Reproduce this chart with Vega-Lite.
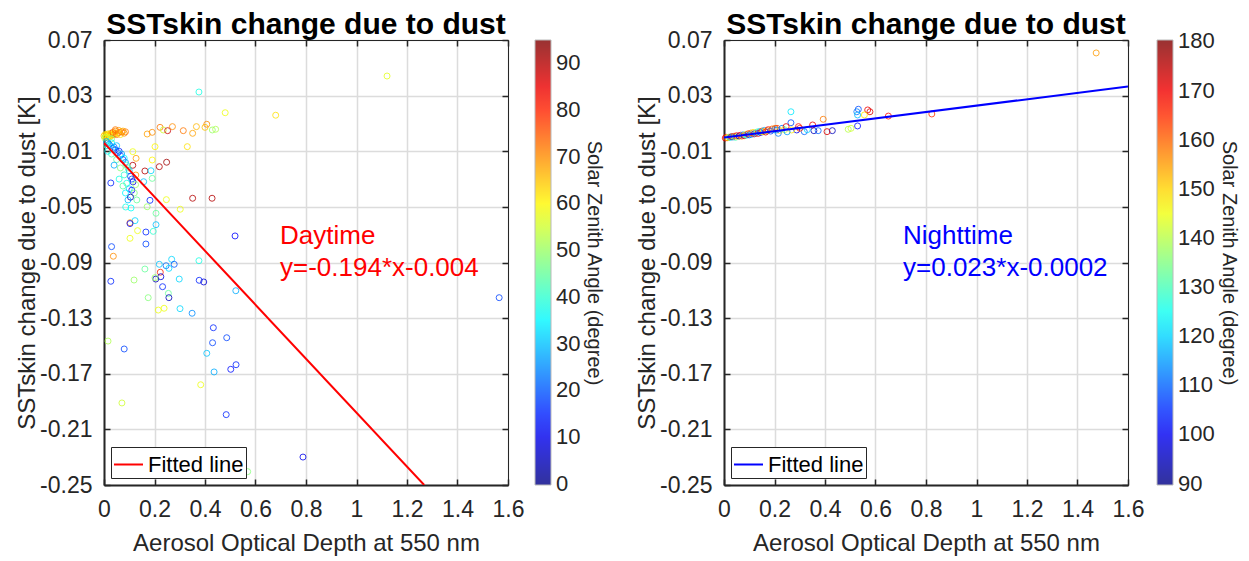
{
  "$schema": "https://vega.github.io/schema/vega-lite/v6.json",
  "padding": {"left": 15, "top": 10, "right": 4, "bottom": 4},
  "spacing": 31,
  "datasets": {
    "day": [
      {"aod":0.376,"dsst":0.0326,"sza":38},{"aod":0.48,"dsst":0.0177,"sza":58},{"aod":0.68,"dsst":0.0159,"sza":62},{"aod":1.121,"dsst":0.0441,"sza":57},
      {"aod":0.171,"dsst":0.0024,"sza":68},{"aod":0.191,"dsst":0.0036,"sza":70},{"aod":0.222,"dsst":0.0072,"sza":72},{"aod":0.235,"dsst":0.0053,"sza":55},
      {"aod":0.252,"dsst":0.0048,"sza":88},{"aod":0.271,"dsst":0.0077,"sza":70},{"aod":0.314,"dsst":0.0048,"sza":72},{"aod":0.351,"dsst":0.0029,"sza":68},
      {"aod":0.366,"dsst":0.0077,"sza":66},{"aod":0.4,"dsst":0.0072,"sza":65},{"aod":0.407,"dsst":0.0094,"sza":70},{"aod":0.429,"dsst":0.0053,"sza":50},
      {"aod":0.442,"dsst":0.0058,"sza":52},{"aod":0.202,"dsst":-0.0067,"sza":60},{"aod":0.33,"dsst":-0.0067,"sza":62},{"aod":0.127,"dsst":-0.0151,"sza":68},
      {"aod":0.114,"dsst":-0.0103,"sza":58},{"aod":0.191,"dsst":-0.0163,"sza":60},{"aod":0.114,"dsst":-0.0201,"sza":90},{"aod":0.219,"dsst":-0.0211,"sza":90},
      {"aod":0.248,"dsst":-0.0179,"sza":92},{"aod":0.162,"dsst":-0.0242,"sza":90},{"aod":0.186,"dsst":-0.024,"sza":32},{"aod":0.191,"dsst":-0.0295,"sza":45},
      {"aod":0.126,"dsst":-0.0271,"sza":70},{"aod":0.027,"dsst":-0.0328,"sza":15},{"aod":0.157,"dsst":-0.0319,"sza":30},{"aod":0.351,"dsst":-0.0438,"sza":90},
      {"aod":0.428,"dsst":-0.0438,"sza":90},{"aod":0.247,"dsst":-0.0448,"sza":58},{"aod":0.182,"dsst":-0.0453,"sza":15},{"aod":0.302,"dsst":-0.0517,"sza":58},
      {"aod":0.206,"dsst":-0.0546,"sza":45},{"aod":0.171,"dsst":-0.0499,"sza":50},{"aod":0.086,"dsst":-0.0501,"sza":38},{"aod":0.107,"dsst":-0.0508,"sza":36},
      {"aod":0.123,"dsst":-0.0599,"sza":32},{"aod":0.103,"dsst":-0.0614,"sza":70},{"aod":0.103,"dsst":-0.062,"sza":12},{"aod":0.206,"dsst":-0.0628,"sza":30},
      {"aod":0.133,"dsst":-0.0671,"sza":58},{"aod":0.166,"dsst":-0.0681,"sza":15},{"aod":0.195,"dsst":-0.0676,"sza":40},{"aod":0.103,"dsst":-0.0726,"sza":58},
      {"aod":0.166,"dsst":-0.0767,"sza":18},{"aod":0.03,"dsst":-0.0786,"sza":18},{"aod":0.519,"dsst":-0.0709,"sza":12},{"aod":0.037,"dsst":-0.0855,"sza":70},
      {"aod":0.027,"dsst":-0.1035,"sza":15},{"aod":0.119,"dsst":-0.1026,"sza":50},{"aod":0.162,"dsst":-0.0947,"sza":45},{"aod":0.219,"dsst":-0.0913,"sza":30},
      {"aod":0.246,"dsst":-0.0923,"sza":22},{"aod":0.257,"dsst":-0.0942,"sza":32},{"aod":0.268,"dsst":-0.0877,"sza":32},{"aod":0.278,"dsst":-0.0913,"sza":20},
      {"aod":0.223,"dsst":-0.097,"sza":80},{"aod":0.225,"dsst":-0.1002,"sza":8},{"aod":0.205,"dsst":-0.1019,"sza":5},{"aod":0.202,"dsst":-0.1009,"sza":50},
      {"aod":0.232,"dsst":-0.1074,"sza":15},{"aod":0.255,"dsst":-0.1122,"sza":45},{"aod":0.257,"dsst":-0.1153,"sza":5},{"aod":0.175,"dsst":-0.1153,"sza":48},
      {"aod":0.215,"dsst":-0.1242,"sza":58},{"aod":0.238,"dsst":-0.1229,"sza":58},{"aod":0.301,"dsst":-0.1232,"sza":32},{"aod":0.349,"dsst":-0.1265,"sza":25},
      {"aod":0.376,"dsst":-0.0887,"sza":38},{"aod":0.298,"dsst":-0.1019,"sza":32},{"aod":0.377,"dsst":-0.1028,"sza":15},{"aod":0.395,"dsst":-0.104,"sza":8},
      {"aod":0.522,"dsst":-0.1103,"sza":28},{"aod":0.016,"dsst":-0.1465,"sza":52},{"aod":0.08,"dsst":-0.1522,"sza":18},{"aod":0.071,"dsst":-0.191,"sza":55},
      {"aod":0.433,"dsst":-0.1369,"sza":15},{"aod":0.486,"dsst":-0.1441,"sza":18},{"aod":0.43,"dsst":-0.1477,"sza":18},{"aod":0.407,"dsst":-0.1553,"sza":30},
      {"aod":0.523,"dsst":-0.1635,"sza":15},{"aod":0.502,"dsst":-0.1668,"sza":13},{"aod":0.436,"dsst":-0.1687,"sza":28},{"aod":0.383,"dsst":-0.1779,"sza":58},
      {"aod":0.484,"dsst":-0.1994,"sza":15},{"aod":0.788,"dsst":-0.2299,"sza":10},{"aod":0.569,"dsst":-0.2404,"sza":48},{"aod":1.565,"dsst":-0.1153,"sza":18},
      {"aod":0.0,"dsst":0.001,"sza":65},{"aod":0.004,"dsst":0.002,"sza":62},{"aod":0.008,"dsst":0.0015,"sza":68},{"aod":0.012,"dsst":0.002,"sza":60},
      {"aod":0.016,"dsst":0.0025,"sza":64},{"aod":0.02,"dsst":0.001,"sza":70},{"aod":0.024,"dsst":0.002,"sza":58},{"aod":0.028,"dsst":0.003,"sza":66},
      {"aod":0.032,"dsst":0.0015,"sza":62},{"aod":0.036,"dsst":0.002,"sza":72},{"aod":0.04,"dsst":0.003,"sza":60},{"aod":0.044,"dsst":0.0025,"sza":68},
      {"aod":0.05,"dsst":0.002,"sza":74},{"aod":0.055,"dsst":0.003,"sza":64},{"aod":0.06,"dsst":0.0035,"sza":70},{"aod":0.065,"dsst":0.002,"sza":62},
      {"aod":0.07,"dsst":0.004,"sza":72},{"aod":0.075,"dsst":0.0045,"sza":66},{"aod":0.08,"dsst":0.003,"sza":70},{"aod":0.003,"dsst":-0.0005,"sza":55},
      {"aod":0.006,"dsst":0.0,"sza":52},{"aod":0.01,"dsst":0.0005,"sza":60},{"aod":0.018,"dsst":0.0,"sza":58},{"aod":0.025,"dsst":0.0005,"sza":62},
      {"aod":0.035,"dsst":0.0035,"sza":75},{"aod":0.045,"dsst":0.0045,"sza":70},{"aod":0.058,"dsst":0.005,"sza":68},{"aod":0.085,"dsst":0.004,"sza":72},
      {"aod":0.03,"dsst":-0.001,"sza":48},{"aod":0.045,"dsst":0.0055,"sza":72},
      {"aod":0.01,"dsst":-0.003,"sza":28},{"aod":0.015,"dsst":-0.004,"sza":25},{"aod":0.02,"dsst":-0.005,"sza":22},{"aod":0.025,"dsst":-0.006,"sza":30},
      {"aod":0.03,"dsst":-0.004,"sza":35},{"aod":0.035,"dsst":-0.008,"sza":20},{"aod":0.04,"dsst":-0.007,"sza":25},{"aod":0.045,"dsst":-0.009,"sza":18},
      {"aod":0.05,"dsst":-0.006,"sza":30},{"aod":0.055,"dsst":-0.011,"sza":22},{"aod":0.06,"dsst":-0.01,"sza":15},{"aod":0.065,"dsst":-0.013,"sza":20},
      {"aod":0.07,"dsst":-0.012,"sza":28},{"aod":0.075,"dsst":-0.016,"sza":18},{"aod":0.08,"dsst":-0.015,"sza":35},{"aod":0.085,"dsst":-0.018,"sza":25},
      {"aod":0.09,"dsst":-0.02,"sza":40},{"aod":0.095,"dsst":-0.022,"sza":45},{"aod":0.1,"dsst":-0.024,"sza":30},{"aod":0.105,"dsst":-0.028,"sza":15},
      {"aod":0.11,"dsst":-0.03,"sza":20},{"aod":0.115,"dsst":-0.032,"sza":10},{"aod":0.03,"dsst":-0.012,"sza":42},{"aod":0.05,"dsst":-0.016,"sza":45},
      {"aod":0.065,"dsst":-0.022,"sza":48},{"aod":0.08,"dsst":-0.027,"sza":40},{"aod":0.09,"dsst":-0.033,"sza":38},{"aod":0.1,"dsst":-0.037,"sza":32},
      {"aod":0.11,"dsst":-0.038,"sza":12},{"aod":0.12,"dsst":-0.04,"sza":48},{"aod":0.085,"dsst":-0.04,"sza":35},{"aod":0.095,"dsst":-0.045,"sza":30},
      {"aod":0.015,"dsst":-0.01,"sza":35},{"aod":0.04,"dsst":-0.02,"sza":28},{"aod":0.012,"dsst":-0.006,"sza":40},{"aod":0.06,"dsst":-0.03,"sza":38},
      {"aod":0.075,"dsst":-0.035,"sza":44},{"aod":0.105,"dsst":-0.043,"sza":5},{"aod":0.125,"dsst":-0.034,"sza":50},{"aod":0.13,"dsst":-0.045,"sza":45}
    ],
    "night": [
      {"aod":0.005,"dsst":-0.0005,"sza":170},{"aod":0.01,"dsst":0.0,"sza":165},{"aod":0.015,"dsst":-0.0003,"sza":150},{"aod":0.02,"dsst":0.0002,"sza":140},
      {"aod":0.025,"dsst":0.0,"sza":120},{"aod":0.03,"dsst":0.0005,"sza":175},{"aod":0.035,"dsst":0.0003,"sza":110},{"aod":0.04,"dsst":0.0008,"sza":160},
      {"aod":0.045,"dsst":0.0,"sza":130},{"aod":0.05,"dsst":0.0012,"sza":170},{"aod":0.055,"dsst":0.0006,"sza":145},{"aod":0.06,"dsst":0.001,"sza":100},
      {"aod":0.065,"dsst":0.0015,"sza":168},{"aod":0.07,"dsst":0.0008,"sza":155},{"aod":0.075,"dsst":0.0018,"sza":115},{"aod":0.08,"dsst":0.0012,"sza":172},
      {"aod":0.085,"dsst":0.002,"sza":140},{"aod":0.09,"dsst":0.0015,"sza":125},{"aod":0.095,"dsst":0.0025,"sza":165},{"aod":0.1,"dsst":0.0018,"sza":105},
      {"aod":0.105,"dsst":0.003,"sza":158},{"aod":0.11,"dsst":0.0022,"sza":118},{"aod":0.115,"dsst":0.0035,"sza":150},{"aod":0.12,"dsst":0.0025,"sza":170},
      {"aod":0.125,"dsst":0.003,"sza":112},{"aod":0.13,"dsst":0.0038,"sza":135},{"aod":0.135,"dsst":0.0028,"sza":166},{"aod":0.14,"dsst":0.0042,"sza":120},
      {"aod":0.145,"dsst":0.0035,"sza":100},{"aod":0.15,"dsst":0.0045,"sza":162},{"aod":0.155,"dsst":0.004,"sza":145},{"aod":0.16,"dsst":0.005,"sza":115},
      {"aod":0.165,"dsst":0.0038,"sza":172},{"aod":0.17,"dsst":0.0048,"sza":155},{"aod":0.175,"dsst":0.0055,"sza":168},{"aod":0.185,"dsst":0.0045,"sza":108},
      {"aod":0.19,"dsst":0.006,"sza":160},{"aod":0.2,"dsst":0.0055,"sza":118},{"aod":0.21,"dsst":0.0065,"sza":165},{"aod":0.22,"dsst":0.005,"sza":150},
      {"aod":0.23,"dsst":0.0065,"sza":112},{"aod":0.24,"dsst":0.0055,"sza":140},
      {"aod":1.474,"dsst":0.0607,"sza":155},{"aod":0.823,"dsst":0.0168,"sza":165},{"aod":0.651,"dsst":0.0153,"sza":168},{"aod":0.569,"dsst":0.0197,"sza":170},
      {"aod":0.578,"dsst":0.0184,"sza":172},{"aod":0.532,"dsst":0.0202,"sza":108},{"aod":0.526,"dsst":0.0184,"sza":112},{"aod":0.529,"dsst":0.0161,"sza":118},
      {"aod":0.556,"dsst":0.0161,"sza":148},{"aod":0.529,"dsst":0.0082,"sza":102},{"aod":0.492,"dsst":0.0058,"sza":140},{"aod":0.503,"dsst":0.0065,"sza":142},
      {"aod":0.429,"dsst":0.0048,"sza":95},{"aod":0.408,"dsst":0.0041,"sza":172},{"aod":0.393,"dsst":0.013,"sza":158},{"aod":0.265,"dsst":0.0184,"sza":122},
      {"aod":0.265,"dsst":0.0105,"sza":108},{"aod":0.351,"dsst":0.0089,"sza":170},{"aod":0.356,"dsst":0.0048,"sza":95},{"aod":0.318,"dsst":0.0041,"sza":110},
      {"aod":0.295,"dsst":0.0077,"sza":168},{"aod":0.288,"dsst":0.0053,"sza":100},{"aod":0.246,"dsst":0.0077,"sza":170},{"aod":0.215,"dsst":0.0029,"sza":112},
      {"aod":0.209,"dsst":0.0053,"sza":112},{"aod":0.202,"dsst":0.0065,"sza":160},{"aod":0.373,"dsst":0.0048,"sza":110},{"aod":0.268,"dsst":0.0053,"sza":148},
      {"aod":0.3,"dsst":0.0065,"sza":165},{"aod":0.33,"dsst":0.0055,"sza":120},{"aod":0.25,"dsst":0.004,"sza":115}
    ],
    "dayfit": [{"aod":0,"dsst":-0.004,"series":"Fitted line"},{"aod":1.268,"dsst":-0.25,"series":"Fitted line"}],
    "nightfit": [{"aod":0,"dsst":-0.0002,"series":"Fitted line"},{"aod":1.6,"dsst":0.0366,"series":"Fitted line"}],
    "daytext": [{"aod":0.697,"dsst":-0.071,"label":"Daytime"},{"aod":0.697,"dsst":-0.094,"label":"y=-0.194*x-0.004"}],
    "nighttext": [{"aod":0.709,"dsst":-0.071,"label":"Nighttime"},{"aod":0.709,"dsst":-0.094,"label":"y=0.023*x-0.0002"}]
  },
  "hconcat": [
    {
      "width": 404,
      "height": 445,
      "title": {"text": "SSTskin change due to dust", "font": "Liberation Sans", "fontSize": 30, "fontWeight": "bold", "color": "black", "anchor": "middle", "frame": "group", "offset": -11},
      "layer": [
        {
          "data": {"name": "day"},
          "mark": {"type": "point", "shape": "circle", "filled": false, "size": 36, "strokeWidth": 1, "opacity": 0.8},
          "encoding": {
            "x": {"field": "aod", "type": "quantitative", "scale": {"domain": [0, 1.6], "nice": false, "zero": false},
              "axis": {"orient": "bottom", "title": "Aerosol Optical Depth at 550 nm", "values": [0,0.2,0.4,0.6,0.8,1,1.2,1.4,1.6], "labelExpr": "replace(format(datum.value,'~g'),'\u2212','-')", "labelFlush": false, "labelOverlap": false, "grid": true, "tickSize": -6, "tickWidth": 1.5, "domainWidth": 2, "labelPadding": 19, "titlePadding": 10}},
            "y": {"field": "dsst", "type": "quantitative", "scale": {"domain": [-0.25, 0.07], "nice": false, "zero": false},
              "axis": {"orient": "left", "title": "SSTskin change due to dust [K]", "values": [0.07,0.03,-0.01,-0.05,-0.09,-0.13,-0.17,-0.21,-0.25], "labelExpr": "replace(format(datum.value,'.2f'),'\u2212','-')", "labelFlush": false, "labelOverlap": false, "grid": true, "tickSize": -6, "tickWidth": 1.5, "domainWidth": 2, "labelPadding": 18, "titlePadding": 0}},
            "color": {"field": "sza", "type": "quantitative",
              "scale": {"domain": [-0.3, 11.875, 35.625, 59.375, 83.125, 95], "range": ["#000084", "#0000ff", "#00ffff", "#ffff00", "#ff0000", "#800000"], "interpolate": "rgb"},
              "legend": {"orient": "right", "offset": 26, "type": "gradient", "gradientLength": 445, "gradientThickness": 16, "gradientStrokeColor": "#aaaaaa", "gradientStrokeWidth": 1,
                "values": [0,10,20,30,40,50,60,70,80,90], "labelFontSize": 22, "labelFont": "Liberation Sans", "labelColor": "#262626", "labelOffset": 5, "labelOverlap": false, "labelBaseline": "middle",
                "title": "Solar Zenith Angle (degree)", "titleLimit": 600, "titleOrient": "right", "titleAnchor": "middle", "titleFontSize": 20, "titleFont": "Liberation Sans", "titleFontWeight": "normal", "titleColor": "#262626", "titlePadding": 4,
                "encode": {"title": {"update": {"angle": {"value": -90}, "align": {"value": "center"}, "baseline": {"value": "top"}}}}}
            }
          }
        },
        {
          "data": {"name": "dayfit"},
          "mark": {"type": "line", "strokeWidth": 2, "clip": true},
          "encoding": {
            "x": {"field": "aod", "type": "quantitative", "axis": {"orient": "top", "title": null, "labels": false, "grid": false, "values": [0,0.2,0.4,0.6,0.8,1,1.2,1.4,1.6], "tickSize": -6, "tickWidth": 1.5, "domainWidth": 1}},
            "y": {"field": "dsst", "type": "quantitative", "axis": {"orient": "right", "title": null, "labels": false, "grid": false, "values": [0.07,0.03,-0.01,-0.05,-0.09,-0.13,-0.17,-0.21,-0.25], "tickSize": -6, "tickWidth": 1.5, "domainWidth": 1}},
            "stroke": {"field": "series", "type": "nominal", "scale": {"domain": ["Fitted line"], "range": ["#ff0000"]},
              "legend": {"orient": "bottom-left", "offset": 7, "title": null, "symbolType": "stroke", "symbolSize": 841, "symbolStrokeWidth": 2, "labelFontSize": 22, "labelFont": "Liberation Sans", "labelColor": "black", "labelOffset": 4, "padding": 2, "strokeColor": "#262626", "fillColor": "white"}}
          }
        },
        {
          "data": {"name": "daytext"},
          "mark": {"type": "text", "align": "left", "baseline": "middle", "fontSize": 26, "font": "Liberation Sans", "color": "#ff0000"},
          "encoding": {
            "x": {"field": "aod", "type": "quantitative", "axis": null},
            "y": {"field": "dsst", "type": "quantitative", "axis": null},
            "text": {"field": "label"}
          }
        }
      ],
      "resolve": {"axis": {"x": "independent", "y": "independent"}}
    },
    {
      "width": 404,
      "height": 445,
      "title": {"text": "SSTskin change due to dust", "font": "Liberation Sans", "fontSize": 30, "fontWeight": "bold", "color": "black", "anchor": "middle", "frame": "group", "offset": -11},
      "layer": [
        {
          "data": {"name": "night"},
          "mark": {"type": "point", "shape": "circle", "filled": false, "size": 36, "strokeWidth": 1, "opacity": 0.8},
          "encoding": {
            "x": {"field": "aod", "type": "quantitative", "scale": {"domain": [0, 1.6], "nice": false, "zero": false},
              "axis": {"orient": "bottom", "title": "Aerosol Optical Depth at 550 nm", "values": [0,0.2,0.4,0.6,0.8,1,1.2,1.4,1.6], "labelExpr": "replace(format(datum.value,'~g'),'\u2212','-')", "labelFlush": false, "labelOverlap": false, "grid": true, "tickSize": -6, "tickWidth": 1.5, "domainWidth": 2, "labelPadding": 19, "titlePadding": 10}},
            "y": {"field": "dsst", "type": "quantitative", "scale": {"domain": [-0.25, 0.07], "nice": false, "zero": false},
              "axis": {"orient": "left", "title": "SSTskin change due to dust [K]", "values": [0.07,0.03,-0.01,-0.05,-0.09,-0.13,-0.17,-0.21,-0.25], "labelExpr": "replace(format(datum.value,'.2f'),'\u2212','-')", "labelFlush": false, "labelOverlap": false, "grid": true, "tickSize": -6, "tickWidth": 1.5, "domainWidth": 2, "labelPadding": 18, "titlePadding": 0}},
            "color": {"field": "sza", "type": "quantitative",
              "scale": {"domain": [89.7, 101.25, 123.75, 146.25, 168.75, 180.3], "range": ["#000084", "#0000ff", "#00ffff", "#ffff00", "#ff0000", "#800000"], "interpolate": "rgb"},
              "legend": {"orient": "right", "offset": 28, "type": "gradient", "gradientLength": 445, "gradientThickness": 16, "gradientStrokeColor": "#aaaaaa", "gradientStrokeWidth": 1,
                "values": [90,100,110,120,130,140,150,160,170,180], "labelFontSize": 22, "labelFont": "Liberation Sans", "labelColor": "#262626", "labelOffset": 5, "labelOverlap": false, "labelBaseline": "middle",
                "title": "Solar Zenith Angle (degree)", "titleLimit": 600, "titleOrient": "right", "titleAnchor": "middle", "titleFontSize": 20, "titleFont": "Liberation Sans", "titleFontWeight": "normal", "titleColor": "#262626", "titlePadding": 4,
                "encode": {"title": {"update": {"angle": {"value": -90}, "align": {"value": "center"}, "baseline": {"value": "top"}}}}}
            }
          }
        },
        {
          "data": {"name": "nightfit"},
          "mark": {"type": "line", "strokeWidth": 2, "clip": true},
          "encoding": {
            "x": {"field": "aod", "type": "quantitative", "axis": {"orient": "top", "title": null, "labels": false, "grid": false, "values": [0,0.2,0.4,0.6,0.8,1,1.2,1.4,1.6], "tickSize": -6, "tickWidth": 1.5, "domainWidth": 1}},
            "y": {"field": "dsst", "type": "quantitative", "axis": {"orient": "right", "title": null, "labels": false, "grid": false, "values": [0.07,0.03,-0.01,-0.05,-0.09,-0.13,-0.17,-0.21,-0.25], "tickSize": -6, "tickWidth": 1.5, "domainWidth": 1}},
            "stroke": {"field": "series", "type": "nominal", "scale": {"domain": ["Fitted line"], "range": ["#0000ff"]},
              "legend": {"orient": "bottom-left", "offset": 7, "title": null, "symbolType": "stroke", "symbolSize": 841, "symbolStrokeWidth": 2, "labelFontSize": 22, "labelFont": "Liberation Sans", "labelColor": "black", "labelOffset": 4, "padding": 2, "strokeColor": "#262626", "fillColor": "white"}}
          }
        },
        {
          "data": {"name": "nighttext"},
          "mark": {"type": "text", "align": "left", "baseline": "middle", "fontSize": 26, "font": "Liberation Sans", "color": "#0000ff"},
          "encoding": {
            "x": {"field": "aod", "type": "quantitative", "axis": null},
            "y": {"field": "dsst", "type": "quantitative", "axis": null},
            "text": {"field": "label"}
          }
        }
      ],
      "resolve": {"axis": {"x": "independent", "y": "independent"}}
    }
  ],
  "resolve": {"scale": {"color": "independent", "stroke": "independent", "x": "independent", "y": "independent"}, "legend": {"color": "independent", "stroke": "independent"}},
  "config": {
    "font": "Liberation Sans",
    "view": {"stroke": null},
    "axis": {"labelFont": "Liberation Sans", "labelFontSize": 23, "labelColor": "#262626", "titleFont": "Liberation Sans", "titleFontSize": 24, "titleFontWeight": "normal", "titleColor": "#262626", "gridColor": "#dcdcdc", "gridWidth": 1.5, "domainColor": "#262626", "tickColor": "#262626"}
  }
}
